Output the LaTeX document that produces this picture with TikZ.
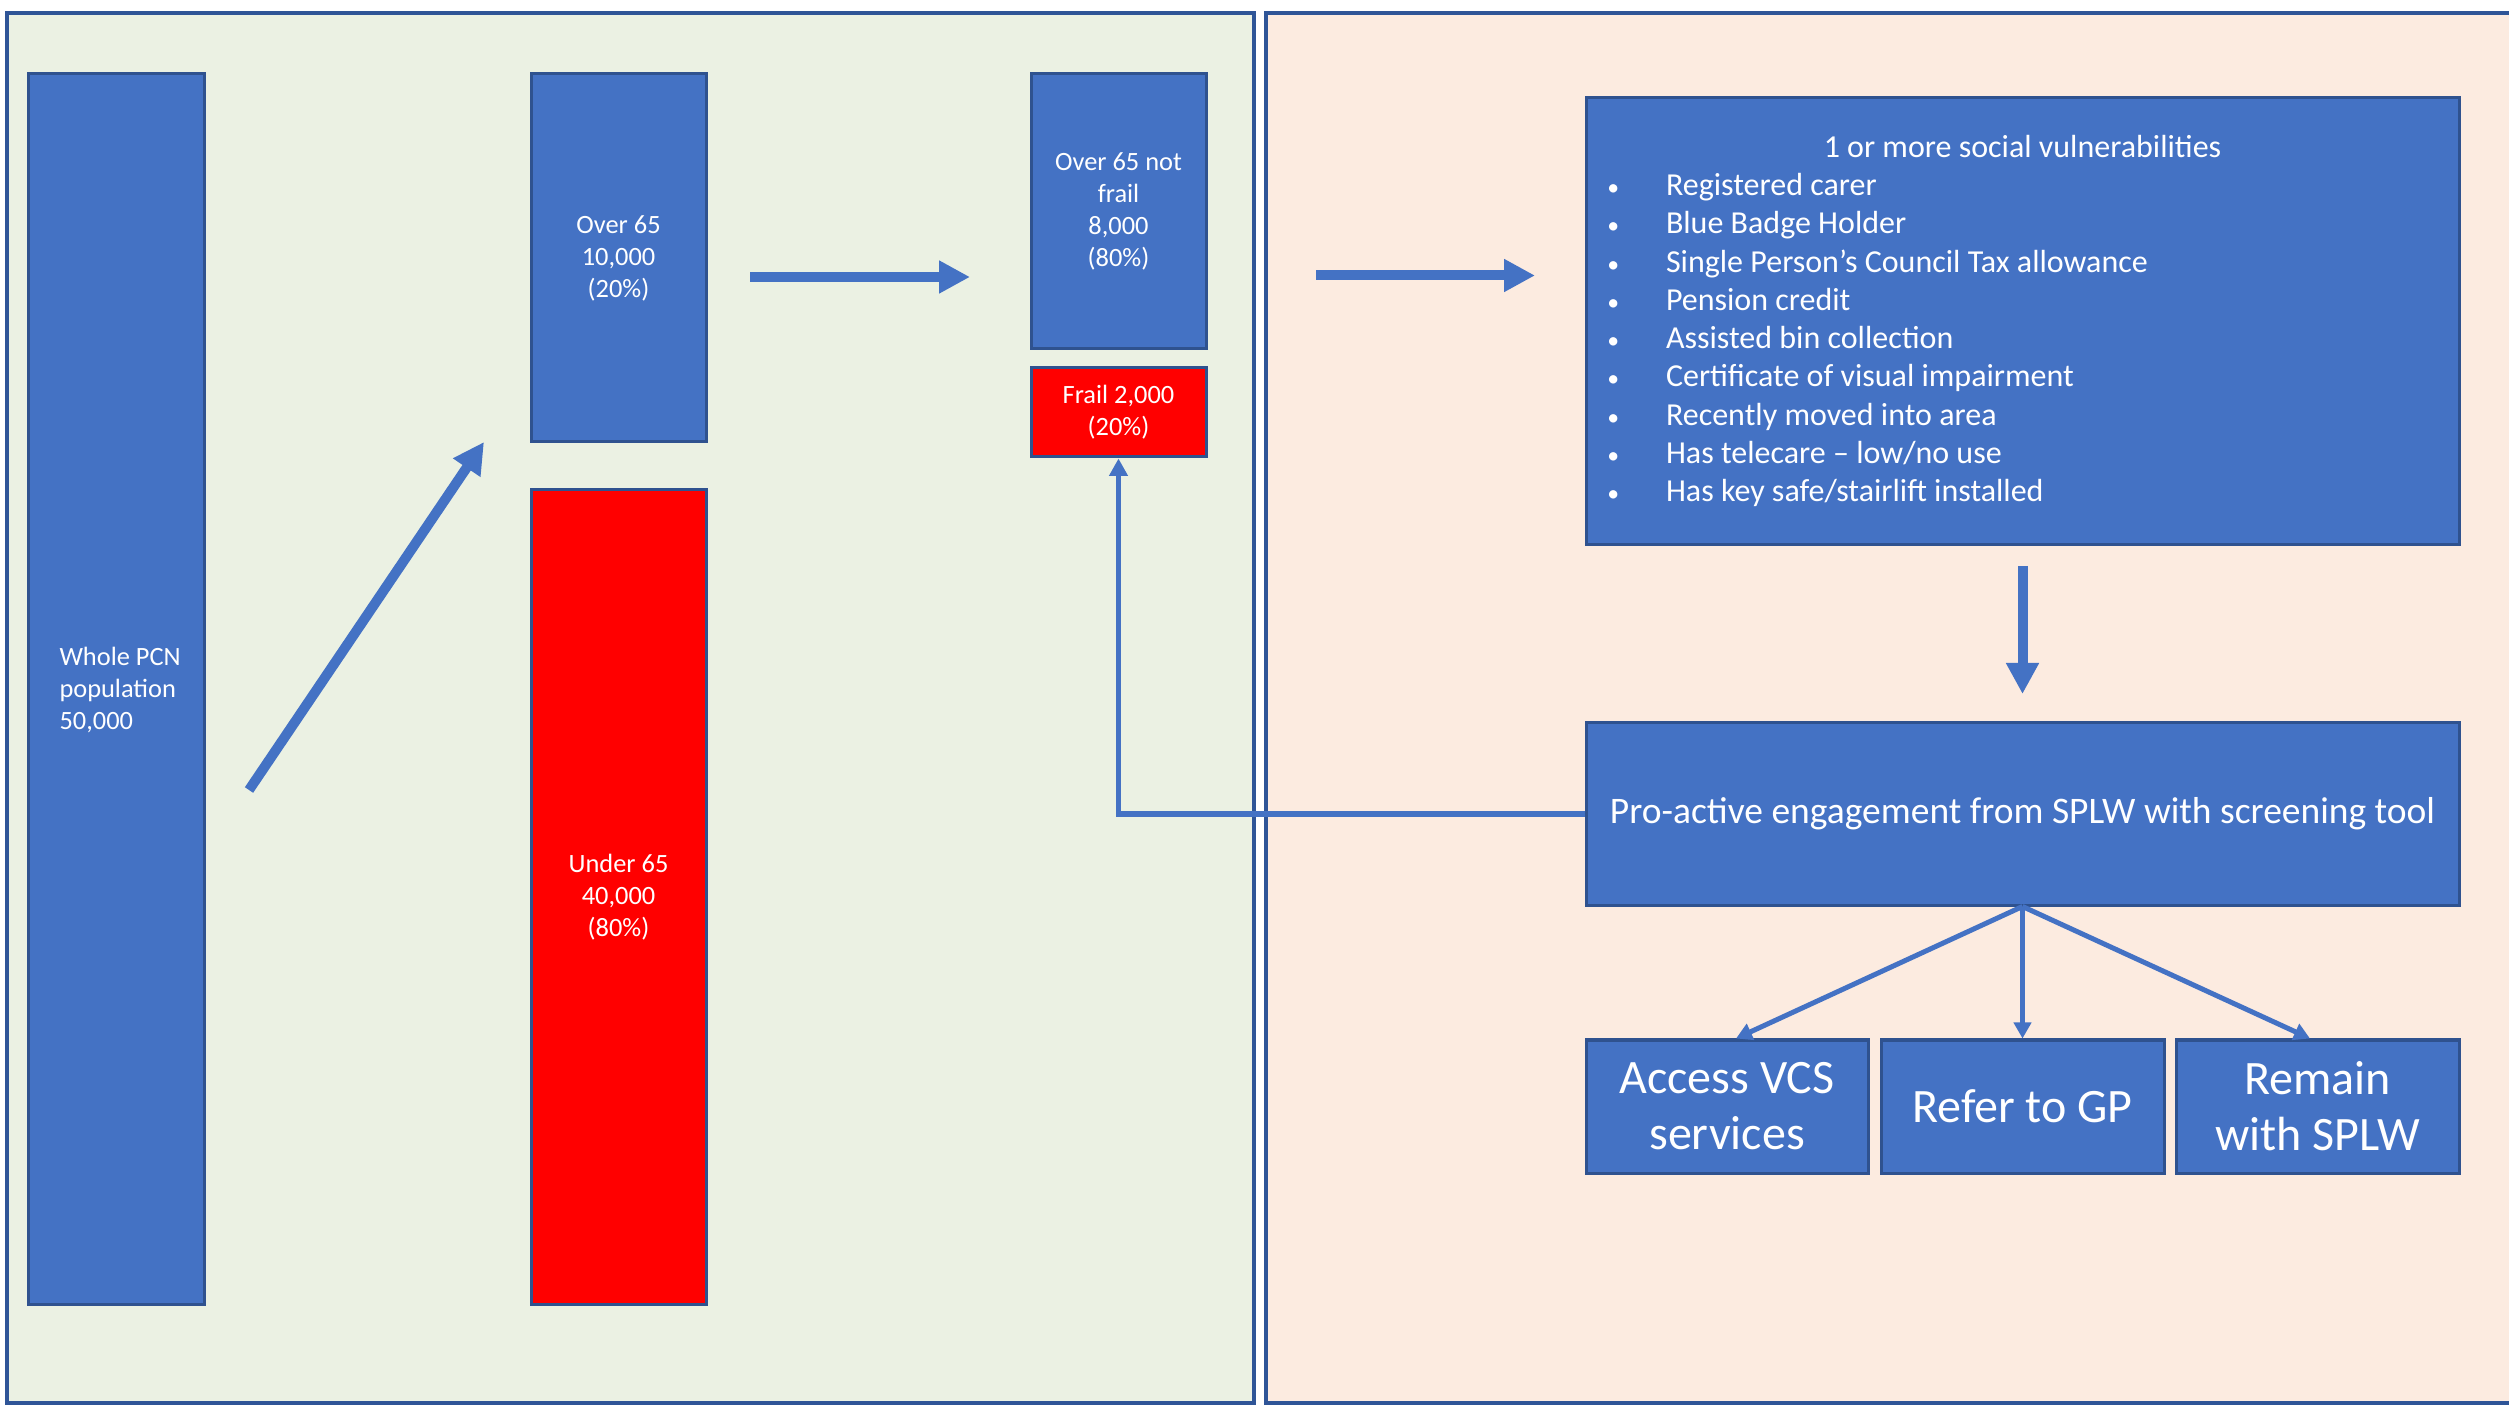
\documentclass[tikz,border=0pt]{standalone}
\usepackage{fontspec}
\setmainfont{Carlito}
\usetikzlibrary{arrows.meta}
\definecolor{boxblue}{HTML}{4472C4}
\definecolor{boxedge}{HTML}{2F528F}
\definecolor{panelgreen}{HTML}{EBF1E3}
\definecolor{panelpeach}{HTML}{FCEBE0}
\definecolor{paneledge}{HTML}{2F5597}
\definecolor{frailred}{HTML}{FF0000}
\newcommand{\popText}{\fontsize{10.56}{12.8}\selectfont}
\newcommand{\listText}{\fontsize{12.8}{15.32}\selectfont}
\newcommand{\engageText}{\fontsize{15}{18}\selectfont}
\newcommand{\outcomeText}{\fontsize{19.2}{22.4}\selectfont}
\newcommand{\socItem}[1]{\makebox[329.2pt][l]{\makebox[22pt][l]{\hspace{-1.5pt}{\fontsize{9.5}{9.5}\selectfont\textbullet}}#1}}

\begin{document}
\begin{tikzpicture}[x=0.4pt,y=-0.4pt,
  box/.style={draw=boxedge, fill=boxblue, line width=1.2pt, text=white, inner sep=0pt, align=center},
  redbox/.style={box, fill=frailred},
  bigarrow/.style={draw=boxblue, line width=4pt, -{Triangle[length=12.4pt, width=12.4pt]}},
  thinarrow/.style={draw=boxblue, line width=2pt, -{Triangle[length=6.4pt, width=6.8pt]}}]
\useasboundingbox (0,0) rectangle (2509,1411);
% panels
\draw[paneledge, line width=1.4pt, fill=panelgreen] (7,13) rectangle (1254,1403);
\draw[paneledge, line width=1.4pt, fill=panelpeach] (1266,13) rectangle (2530,1403);
% population bars
\node[box, minimum width=70pt, minimum height=492pt] (whole) at (116.5,689) {};
\node[anchor=west, inner sep=0pt, align=left, text=white, font=\popText] (wholetxt) at (59,690) {Whole PCN\\population\\50,000};
\node[box, minimum width=70pt, minimum height=147.2pt, font=\popText] (over) at (618.5,258) {Over 65\\10,000\\(20\%)};
\node[redbox, minimum width=70pt, minimum height=325.6pt, font=\popText] (under) at (618.5,897) {Under 65\\40,000\\(80\%)};
\node[box, minimum width=70pt, minimum height=110pt, font=\popText] (notfrail) at (1118.5,211.5) {Over 65 not\\frail\\8,000\\(80\%)};
\node[redbox, minimum width=70pt, minimum height=35.6pt, font=\popText] (frail) at (1118.5,412.5) {Frail 2,000\\(20\%)};
% right hand flow
\node[box, minimum width=349.2pt, minimum height=178.4pt, font=\listText] (social) at (2022.5,321) {1 or more social vulnerabilities\\
  \socItem{Registered carer}\\
  \socItem{Blue Badge Holder}\\
  \socItem{Single Person’s Council Tax allowance}\\
  \socItem{Pension credit}\\
  \socItem{Assisted bin collection}\\
  \socItem{Certificate of visual impairment}\\
  \socItem{Recently moved into area}\\
  \socItem{Has telecare – low/no use}\\
  \socItem{Has key safe/stairlift installed}};
\node[box, minimum width=349.2pt, minimum height=72.8pt, font=\engageText] (engage) at (2022.5,814) {Pro-active engagement from SPLW with screening tool};
\node[box, minimum width=112.8pt, minimum height=53.2pt, font=\outcomeText] (vcs) at (1727,1106.5) {Access VCS\\services};
\node[box, minimum width=113.2pt, minimum height=53.2pt, font=\outcomeText] (gp) at (2022.5,1106.5) {Refer to GP};
\node[box, minimum width=113.2pt, minimum height=53.2pt, font=\outcomeText] (splw) at (2317.5,1106.5) {Remain\\with SPLW};
% block arrows
\coordinate (diagS) at (249,790);
\coordinate (diagE) at (484,442);
\coordinate (splitS) at (750,277);
\coordinate (splitE) at (970,277);
\coordinate (vulnS) at (1316,275.5);
\coordinate (vulnE) at (1535,275.5);
\coordinate (downS) at (2022.5,566);
\coordinate (downE) at (2022.5,694);
\draw[bigarrow] (diagS) -- (diagE);
\draw[bigarrow] (splitS) -- (splitE);
\draw[bigarrow] (vulnS) -- (vulnE);
\draw[bigarrow] (downS) -- (downE);
% connectors
\draw[thinarrow, line width=2.2pt, -{Triangle[length=7pt, width=7.2pt]}] (engage.west) -| (frail.south);
\draw[thinarrow] (engage.south) -- ([xshift=3.6pt]vcs.north);
\draw[thinarrow] (engage.south) -- (gp.north);
\draw[thinarrow] (engage.south) -- ([xshift=-3pt]splw.north);
\end{tikzpicture}
\end{document}
